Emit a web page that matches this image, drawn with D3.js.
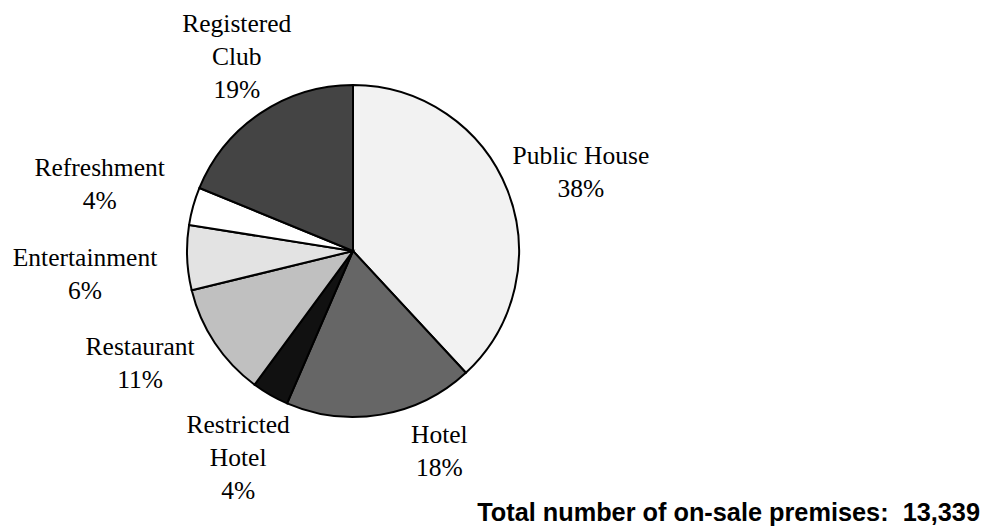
<!DOCTYPE html>
<html>
<head>
<meta charset="utf-8">
<script src="https://cdn.jsdelivr.net/npm/d3@7"></script>
<style>
  html, body { margin: 0; padding: 0; background: #ffffff; }
  svg { display: block; }
</style>
</head>
<body>
<svg id="chart" width="988" height="528"></svg>
<script>
// ---- data ----
const categories = ["Public House", "Hotel", "Restricted Hotel", "Restaurant", "Entertainment", "Refreshment", "Registered Club"];
const labelLines = [["Public House"], ["Hotel"], ["Restricted", "Hotel"], ["Restaurant"], ["Entertainment"], ["Refreshment"], ["Registered", "Club"]];
const shares = [38.1, 18.4, 3.6, 11.1, 6.3, 3.7, 18.8];
const pctLabels = ["38%", "18%", "4%", "11%", "6%", "4%", "19%"];
const totalLabel = "Total number of on-sale premises:  13,339";

// ---- style / layout ----
const fills = ["#f2f2f2", "#666666", "#111111", "#c0c0c0", "#e3e3e3", "#ffffff", "#444444"];
const labelRadius = [241, 218, 237, 241, 269, 262, 226];
const labelAngleNudge = [2.4, -13.6, -0.9, 5.7, -2.6, -0.9, 2.9];

const width = 988, height = 528;
const cx = 353, cy = 251, R = 166;
const lineH = 33;

const svg = d3.select("#chart");
const g = svg.append("g").attr("transform", `translate(${cx},${cy})`);

const pie = d3.pie().sort(null).value(d => d)(shares);
const arc = d3.arc().innerRadius(0).outerRadius(R);

g.selectAll("path.slice")
  .data(pie)
  .join("path")
  .attr("class", "slice")
  .attr("d", arc)
  .attr("fill", (d, i) => fills[i])
  .attr("stroke", "#000")
  .attr("stroke-width", 2)
  .attr("stroke-linejoin", "miter");

const labels = g.selectAll("g.label")
  .data(pie)
  .join("g")
  .attr("class", "label")
  .attr("transform", (d, i) => {
    const a = (d.startAngle + d.endAngle) / 2 + labelAngleNudge[i] * Math.PI / 180;
    const r = labelRadius[i];
    return `translate(${r * Math.sin(a)},${-r * Math.cos(a)})`;
  });

labels.each(function(d, i) {
  const lines = labelLines[i].concat([pctLabels[i]]);
  const n = lines.length;
  const t = d3.select(this).append("text")
    .attr("text-anchor", "middle")
    .attr("font-family", "'Liberation Serif', 'Times New Roman', serif")
    .attr("font-size", 25.5)
    .attr("fill", "#000");
  lines.forEach((ln, k) => {
    t.append("tspan")
      .attr("x", 0)
      .attr("y", (k - (n - 1) / 2) * lineH + 8)
      .text(ln);
  });
});

svg.append("text")
  .attr("x", 980)
  .attr("y", 521)
  .attr("text-anchor", "end")
  .attr("xml:space", "preserve")
  .style("white-space", "pre")
  .attr("font-family", "'Liberation Sans', Arial, sans-serif")
  .attr("font-weight", "bold")
  .attr("font-size", 25.3)
  .attr("fill", "#000")
  .text(totalLabel);
</script>
</body>
</html>
